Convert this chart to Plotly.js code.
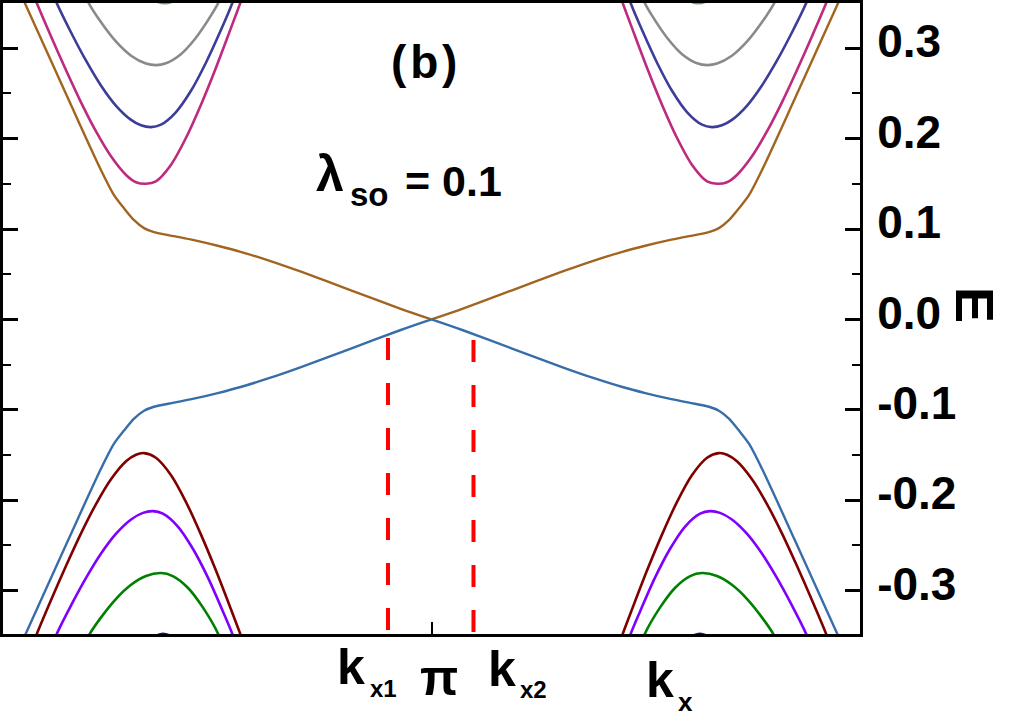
<!DOCTYPE html>
<html><head><meta charset="utf-8">
<script src="https://cdn.plot.ly/plotly-3.0.1.min.js"></script>
<style>html,body{margin:0;padding:0;background:#fff}</style>
</head><body>
<div id="chart" style="width:1017px;height:721px"></div>
<script>
// ---- data (k in radians, E in energy units) ----
// edge states: left half ends at k = pi, right half starts at k = pi
const edgeLeftK  = [0.099,0.157,0.478,0.719,0.814,0.887,0.961,1.034,1.107,1.253,1.399,1.574,1.742,1.961,2.180,2.546,2.911,3.1416];
const edgeRightK = [3.1416,3.372,3.737,4.103,4.322,4.541,4.709,4.884,5.030,5.176,5.249,5.322,5.396,5.469,5.564,5.805,6.126,6.184];
const upperLeftE  = [0.370,0.351,0.244,0.165,0.1375,0.123,0.1098,0.101,0.0966,0.0921,0.0877,0.0815,0.0748,0.0645,0.0530,0.0325,0.0120,0];
const upperRightE = [0,0.0120,0.0325,0.0530,0.0645,0.0748,0.0815,0.0877,0.0921,0.0966,0.101,0.1098,0.123,0.1375,0.165,0.244,0.351,0.370];
const lowerLeftE  = [-0.370,-0.351,-0.244,-0.165,-0.1375,-0.123,-0.1098,-0.101,-0.0966,-0.0921,-0.0877,-0.0815,-0.0748,-0.0645,-0.0530,-0.0325,-0.0120,0];
const lowerRightE = [0,-0.0120,-0.0325,-0.0530,-0.0645,-0.0748,-0.0815,-0.0877,-0.0921,-0.0966,-0.101,-0.1098,-0.123,-0.1375,-0.165,-0.244,-0.351,-0.370];

const pinkK = [0.194,0.245,0.354,0.464,0.573,0.683,0.793,0.902,0.975,1.048,1.121,1.231,1.340,1.450,1.560,1.669,1.742,1.786,null,4.497,4.541,4.614,4.723,4.833,4.943,5.052,5.162,5.235,5.308,5.381,5.490,5.600,5.710,5.819,5.929,6.038,6.089];
const pinkE = [0.372,0.351,0.3124,0.275,0.2398,0.2076,0.1801,0.1598,0.1518,0.1500,0.1527,0.1709,0.2004,0.237,0.2779,0.3214,0.351,0.371,null,0.371,0.351,0.3214,0.2779,0.237,0.2004,0.1709,0.1527,0.1500,0.1518,0.1598,0.1801,0.2076,0.2398,0.275,0.3124,0.351,0.372];

const navyK = [0.347,0.391,0.500,0.610,0.719,0.829,0.939,1.012,1.085,1.158,1.267,1.377,1.486,1.596,1.684,1.727,null,4.556,4.599,4.687,4.797,4.906,5.016,5.125,5.198,5.271,5.344,5.454,5.563,5.673,5.783,5.892,5.936];
const navyE = [0.369,0.351,0.3171,0.2859,0.2585,0.2363,0.2207,0.2147,0.2127,0.2154,0.2291,0.2526,0.2834,0.3195,0.351,0.371,null,0.371,0.351,0.3195,0.2834,0.2526,0.2291,0.2154,0.2127,0.2147,0.2207,0.2363,0.2585,0.2859,0.3171,0.351,0.369];

const grayK = [0.581,0.625,0.719,0.829,0.939,1.048,1.121,1.194,1.304,1.413,1.523,1.581,1.625,null,4.658,4.702,4.760,4.870,4.979,5.089,5.162,5.235,5.344,5.454,5.564,5.658,5.702];
const grayE = [0.370,0.351,0.3286,0.3072,0.2917,0.283,0.2813,0.2833,0.2934,0.3113,0.3357,0.351,0.371,null,0.371,0.351,0.3357,0.3113,0.2934,0.2833,0.2813,0.283,0.2917,0.3072,0.3286,0.351,0.370];

const topTipK = [1.012,1.099,1.187,1.275,1.377,null,4.906,5.008,5.096,5.184,5.271];
const topTipE = [0.370,0.354,0.3495,0.354,0.370,null,0.370,0.354,0.3495,0.354,0.370];

const darkRedK = [0.201,0.245,0.354,0.464,0.573,0.683,0.793,0.902,0.975,1.034,1.121,1.231,1.340,1.450,1.560,1.669,1.742,1.786,null,4.497,4.541,4.614,4.723,4.833,4.943,5.052,5.162,5.249,5.308,5.381,5.490,5.600,5.710,5.819,5.929,6.038,6.082];
const darkRedE = [-0.367,-0.349,-0.3098,-0.272,-0.2364,-0.204,-0.1766,-0.157,-0.1497,-0.1479,-0.153,-0.1721,-0.2015,-0.2375,-0.2773,-0.3198,-0.349,-0.369,null,-0.369,-0.349,-0.3198,-0.2773,-0.2375,-0.2015,-0.1721,-0.153,-0.1479,-0.1497,-0.157,-0.1766,-0.204,-0.2364,-0.272,-0.3098,-0.349,-0.367];

const purpleK = [0.347,0.391,0.500,0.610,0.719,0.829,0.939,1.026,1.099,1.172,1.282,1.391,1.501,1.610,1.684,1.727,null,4.556,4.599,4.673,4.782,4.892,5.001,5.111,5.184,5.257,5.344,5.454,5.564,5.673,5.783,5.892,5.936];
const purpleE = [-0.366,-0.349,-0.3161,-0.2857,-0.259,-0.237,-0.2213,-0.214,-0.2121,-0.2149,-0.2291,-0.2534,-0.2851,-0.3222,-0.349,-0.370,null,-0.370,-0.349,-0.3222,-0.2851,-0.2534,-0.2291,-0.2149,-0.2121,-0.214,-0.2213,-0.237,-0.259,-0.2857,-0.3161,-0.349,-0.366];

const greenK = [0.588,0.632,0.719,0.829,0.939,1.048,1.158,1.245,1.355,1.464,1.581,1.618,null,4.665,4.702,4.819,4.928,5.038,5.125,5.235,5.344,5.454,5.564,5.651,5.695];
const greenE = [-0.366,-0.349,-0.3296,-0.3091,-0.2936,-0.2839,-0.2806,-0.2839,-0.2968,-0.3183,-0.349,-0.365,null,-0.365,-0.349,-0.3183,-0.2968,-0.2839,-0.2806,-0.2839,-0.2936,-0.3091,-0.3296,-0.349,-0.366];

const bottomTipK = [1.012,1.085,1.172,1.260,1.348,null,4.935,5.023,5.111,5.198,5.271];
const bottomTipE = [-0.370,-0.353,-0.3475,-0.353,-0.370,null,-0.370,-0.353,-0.3475,-0.353,-0.370];

// marked momenta kx1, kx2 and the energy where the dashed markers start
const markK = [2.8226, 3.4495];
const markTopE = [-0.0207, -0.0229];

const yTicks = [-0.3,-0.2,-0.1,0.0,0.1,0.2,0.3];
const yTickText = ['-0.3','-0.2','-0.1','0.0','0.1','0.2','0.3'];
const yMinor = [-0.35,-0.25,-0.15,-0.05,0.05,0.15,0.25,0.35];
const xTicks = [Math.PI];

// ---- traces ----
function band(x, y, color, w, shape) {
  return {x: x, y: y, type: 'scatter', mode: 'lines', connectgaps: false,
          line: {color: color, width: w, shape: shape || 'spline', smoothing: 0.8},
          hoverinfo: 'skip', showlegend: false};
}
const traces = [
  band(grayK, grayE, '#8a8a8a', 2.6),
  band(navyK, navyE, '#3c3d99', 2.6),
  band(pinkK, pinkE, '#be2a7d', 2.6),
  band(topTipK, topTipE, '#5fa85f', 2.2),
  band(greenK, greenE, '#008000', 2.6),
  band(purpleK, purpleE, '#8000ff', 2.6),
  band(darkRedK, darkRedE, '#800000', 2.6),
  band(bottomTipK, bottomTipE, '#0000ff', 2.2),
  band(edgeLeftK, upperLeftE, '#a2651f', 2.4),
  band(edgeRightK, upperRightE, '#a2651f', 2.4),
  band(edgeLeftK, lowerLeftE, '#376eaa', 2.4),
  band(edgeRightK, lowerRightE, '#376eaa', 2.4)
];
for (let i = 0; i < markK.length; i++) {
  traces.push({x: [markK[i], markK[i]], y: [markTopE[i], -0.348], type: 'scatter', mode: 'lines',
    line: {color: '#ff0000', width: 4, dash: '22px,23px'}, hoverinfo: 'skip', showlegend: false});
}

// ---- annotations ----
const F = 'Liberation Sans, Arial, sans-serif';
function txt(t, x, y, size, angle) {
  return {text: '<b>' + t + '</b>', x: x, y: y, xref: 'paper', yref: 'paper',
          xanchor: 'center', yanchor: 'middle', showarrow: false,
          textangle: angle || 0, font: {family: F, size: size, color: '#000'}};
}
const annotations = [
  txt('k', 0.4061, -0.0530, 50),
  txt('x1', 0.4440, -0.0870, 24),
  txt('\u03c0', 0.5082, -0.0697, 50),
  txt('k', 0.5817, -0.0561, 50),
  txt('x2', 0.6196, -0.0886, 24),
  txt('k', 0.7666, -0.0728, 50),
  txt('x', 0.7958, -0.1085, 26),
  txt('(\u200ab\u200a)', 0.4918, 0.9060, 46),
  txt('\u03bb', 0.3816, 0.7290, 50),
  txt('so', 0.4282, 0.6960, 33),
  txt('= 0.1', 0.5260, 0.7180, 43),
  txt('E', 1.1348, 0.5220, 54, 90)
];

const layout = {
  width: 1017, height: 721,
  margin: {l: 3, r: 157, t: 3, b: 87},
  paper_bgcolor: '#ffffff', plot_bgcolor: '#ffffff',
  showlegend: false,
  xaxis: {range: [0, 2 * Math.PI], showgrid: false, zeroline: false,
          showline: true, linewidth: 3, linecolor: '#000', mirror: true,
          tickmode: 'array', tickvals: xTicks, ticks: 'inside', ticklen: 12, tickwidth: 2,
          tickcolor: '#000', showticklabels: false, fixedrange: true},
  yaxis: {range: [-0.348, 0.350], side: 'right', showgrid: false, zeroline: false,
          showline: true, linewidth: 3, linecolor: '#000', mirror: 'ticks',
          tickmode: 'array', tickvals: yTicks, ticktext: yTickText.map(s => '<b>' + s + '</b>'),
          ticks: 'inside', ticklen: 15, tickwidth: 3, tickcolor: '#000',
          ticklabelstandoff: 5, ticklabelshift: -7,
          tickfont: {family: F, size: 46, color: '#000'},
          minor: {tickmode: 'array', tickvals: yMinor, ticks: 'inside', ticklen: 8, tickwidth: 2, tickcolor: '#000', showgrid: false},
          fixedrange: true},
  annotations: annotations
};

Plotly.newPlot('chart', traces, layout, {displayModeBar: false, staticPlot: true});
</script>
</body></html>
